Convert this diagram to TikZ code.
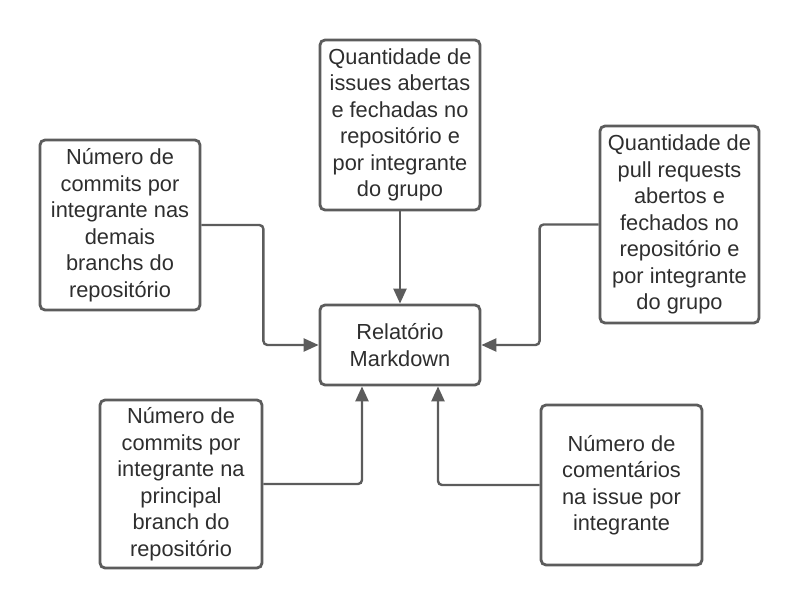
\documentclass[tikz,border=0pt]{standalone}
\usepackage{fontspec}
\setmainfont{Liberation Sans}
\usetikzlibrary{arrows.meta}
\definecolor{linegray}{HTML}{5C5C5C}
\definecolor{textgray}{HTML}{2E2E2E}

\begin{document}
\begin{tikzpicture}[x=1pt, y=-1pt, thick,
    main/.style = {draw=linegray, line width=2.8pt, rounded corners=5pt, align=center, text=textgray, font=\fontsize{21.8}{26.5}\selectfont, minimum width=160pt, inner sep=2pt},
    arrow/.style = {draw=linegray, line width=2.4pt, rounded corners=4pt, -{Triangle[length=15pt, width=13pt]}}]
      \useasboundingbox (0,0) rectangle (800,610);
      \node[main, minimum height=80pt] (out) at (400,345) {Relatório\\Markdown};
      \node[main, minimum height=170pt] (issues) at (400,125) {Quantidade de\\issues abertas\\e fechadas no\\repositório e\\por integrante\\do grupo};
      \node[main, minimum height=170pt] (demais) at (120,225) {Número de\\commits por\\integrante nas\\demais\\branchs do\\repositório};
      \node[main, minimum width=159pt, minimum height=197pt] (pulls) at (679.5,224.5) {Quantidade de\\pull requests\\abertos e\\fechados no\\repositório e\\por integrante\\do grupo};
      \node[main, minimum width=162pt, minimum height=168pt] (principal) at (181,484) {Número de\\commits por\\integrante na\\principal\\branch do\\repositório};
      \node[main, minimum width=161pt, minimum height=160pt] (comentarios) at (621.5,485) {Número de\\comentários\\na issue por\\integrante};
      \draw[arrow] (issues) -- (out);
      \draw[arrow] (demais.east) -- ++(62,0) |- (out.west);
      \draw[arrow] (pulls.west) -- ++(-59,0) |- (out.east);
      \draw[arrow] (principal.east) -| ([xshift=-38pt]out.south);
      \draw[arrow] (comentarios.west) -| ([xshift=38pt]out.south);
    \end{tikzpicture}
\end{document}
